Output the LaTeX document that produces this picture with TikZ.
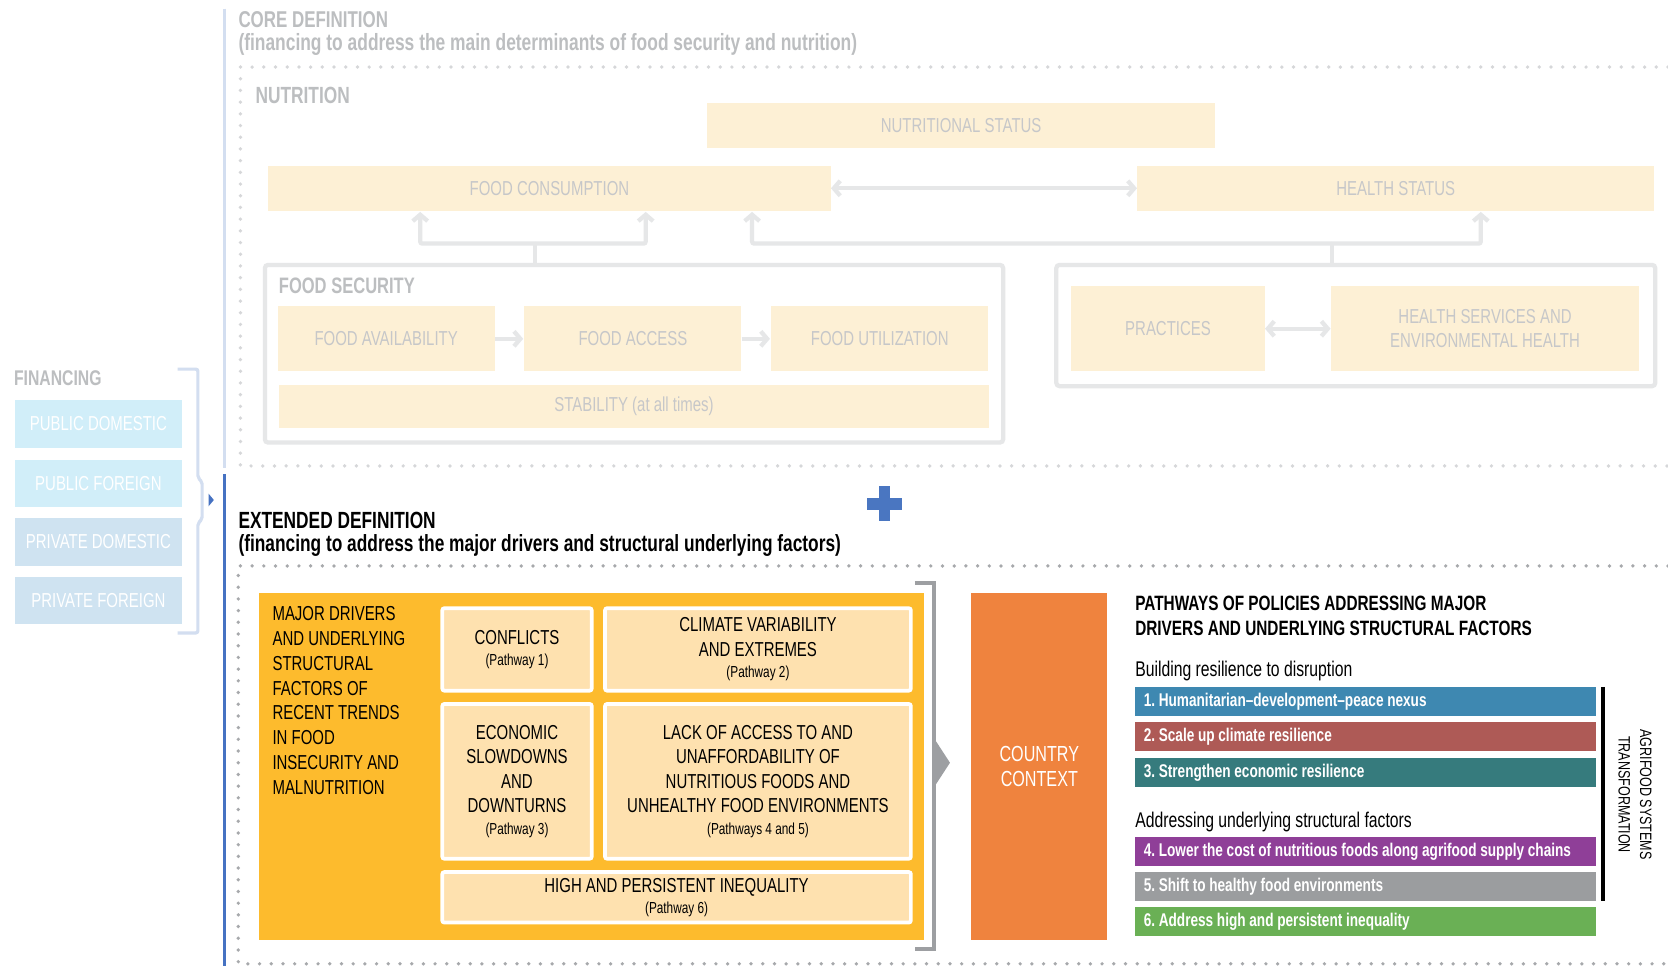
\documentclass[tikz,border=0pt]{standalone}
\usepackage{fontspec}
\setmainfont{Liberation Sans}[FakeStretch=0.74]
\newfontfamily\agrifont{Liberation Sans}[FakeStretch=0.76]
\usetikzlibrary{arrows.meta}
\definecolor{cream}{HTML}{FDF0D5}
\definecolor{ctext}{HTML}{C6C7C9}
\definecolor{chead}{HTML}{BCBEC0}
\definecolor{cline}{HTML}{E6E7E8}
\definecolor{cdot}{HTML}{D6D7D9}
\definecolor{edot}{HTML}{A7A9AC}
\definecolor{lblue}{HTML}{D3DEF0}
\definecolor{dblue}{HTML}{4672C2}
\definecolor{fin1}{HTML}{D1EEF9}
\definecolor{fin2}{HTML}{CFE3F1}
\definecolor{plusc}{HTML}{4A76C1}
\definecolor{yel}{HTML}{FDBB2D}
\definecolor{peach}{HTML}{FEE1AF}
\definecolor{gbr}{HTML}{9D9FA2}
\definecolor{orng}{HTML}{EF833E}
\definecolor{pa}{HTML}{3E88B1}
\definecolor{pb}{HTML}{AE5A56}
\definecolor{pc}{HTML}{367B7D}
\definecolor{pd}{HTML}{8F3F98}
\definecolor{pe}{HTML}{9B9D9F}
\definecolor{pf}{HTML}{6AB055}
\newcommand\pwy[1]{{\fontsize{15}{17}\selectfont #1}}
\newcommand\pwfont{\bfseries\frenchspacing\fontsize{17.3}{19}\selectfont}
\newcommand\pwtext[1]{\setlength{\spaceskip}{0.2em}#1}
\tikzset{
  cbox/.style={fill=cream, text=ctext, inner sep=0pt, align=center, font=\fontsize{19}{23}\selectfont},
  cframe/.style={draw=cline, line width=4pt, rounded corners=3pt, inner sep=0pt},
  conn/.style={draw=cline, line width=4pt, rounded corners=2pt},
  arr/.style={conn, -{Straight Barb[length=6pt,width=14pt]}, shorten >=1pt},
  darr/.style={conn, {Straight Barb[length=6pt,width=14pt]}-{Straight Barb[length=6pt,width=14pt]}},
  chd/.style={anchor=base west, inner sep=0pt, text=chead, font=\bfseries\fontsize{21.5}{25}\selectfont},
  ehd/.style={anchor=base west, inner sep=0pt, text=black, font=\bfseries\fontsize{22}{25}\selectfont},
  finbox/.style={text=white, inner sep=0pt, minimum width=157pt, minimum height=45pt, font=\fontsize{19}{23}\selectfont},
  dotline/.style={draw=#1, line width=3.5pt, line cap=round, dash pattern=on 0pt off 11pt},
  ibox/.style={fill=peach, draw=white, line width=3.5pt, rounded corners=2pt, inner sep=0pt, align=center, font=\fontsize{19}{23}\selectfont},
  pbox/.style={text=white, anchor=west, inner xsep=8pt, inner ysep=0pt, minimum height=27pt, text width=417pt, align=left, font=\pwfont},
  plain/.style={anchor=base west, inner sep=0pt, font=\fontsize{20}{24}\selectfont},
}
\begin{document}
\begin{tikzpicture}[x=1pt,y=-1pt]
\useasboundingbox[fill=white] (0,0) rectangle (1568,908);

% left vertical line
\draw[draw=lblue, line width=3pt] (211,8) -- (211,440);
\draw[draw=dblue, line width=3pt] (211,446) -- (211,908);

% ---------- CORE DEFINITION ----------
\node[chd] (coreT) at (224,26) {CORE DEFINITION};
\node[chd, font=\bfseries\fontsize{22.1}{25}\selectfont] (coreS) at (224,47) {(financing to address the main determinants of food security and nutrition)};
\draw[dotline=cdot] (1568,63) -- (226,63) -- (226,438) -- (1568,438);
\node[chd, font=\bfseries\fontsize{22}{24}\selectfont] (nutT) at (240,97) {NUTRITION};

\node[cbox, minimum width=477pt, minimum height=42pt] (nstat) at (903.5,118) {NUTRITIONAL STATUS};
\node[cbox, minimum width=529pt, minimum height=42pt] (fcons) at (516.5,177) {FOOD CONSUMPTION};
\node[cbox, minimum width=486pt, minimum height=42pt] (hstat) at (1312,177) {HEALTH STATUS};
\draw[darr] (fcons.east) -- (hstat.west);

\node[cframe, minimum width=694pt, minimum height=167pt] (fsec) at (596,332.5) {};
\node[chd, font=\bfseries\fontsize{21}{24}\selectfont] (fsecT) at (262,276) {FOOD SECURITY};
\node[cbox, minimum width=204pt, minimum height=61pt] (favail) at (363,318.5) {FOOD AVAILABILITY};
\node[cbox, minimum width=204pt, minimum height=61pt] (facc) at (595,318.5) {FOOD ACCESS};
\node[cbox, minimum width=204pt, minimum height=61pt] (futil) at (827,318.5) {FOOD UTILIZATION};
\node[cbox, minimum width=668pt, minimum height=40pt] (stab) at (596,382) {STABILITY (at all times)};
\draw[arr] (favail) -- (facc);
\draw[arr] (facc) -- (futil);

\node[cframe, minimum width=563pt, minimum height=114pt] (hframe) at (1274.5,306) {};
\node[cbox, minimum width=182pt, minimum height=80pt] (pract) at (1098,309) {PRACTICES};
\node[cbox, minimum width=290pt, minimum height=80pt] (hserv) at (1396,309) {HEALTH SERVICES AND\\ENVIRONMENTAL HEALTH};
\draw[darr] (pract) -- (hserv);

\coordinate (j1) at (503,229);
\coordinate (t1) at (395,229);
\coordinate (t2) at (607,229);
\draw[conn] (j1 |- fsec.north) -- (j1);
\draw[arr] (j1) -- (t1) -- (t1 |- fcons.south);
\draw[arr] (j1) -- (t2) -- (t2 |- fcons.south);
\coordinate (j2) at (1252,229);
\coordinate (t3) at (707,229);
\coordinate (t4) at (1392,229);
\draw[conn] (j2 |- hframe.north) -- (j2);
\draw[arr] (j2) -- (t3) -- (t3 |- fcons.south);
\draw[arr] (j2) -- (t4) -- (t4 |- hstat.south);

% ---------- FINANCING ----------
\node[chd, font=\bfseries\fontsize{20}{22}\selectfont] (finT) at (13,362) {FINANCING};
\node[finbox, fill=fin1] (fb1) at (92.5,398.5) {PUBLIC DOMESTIC};
\node[finbox, fill=fin1] (fb2) at (92.5,454.5) {PUBLIC FOREIGN};
\node[finbox, fill=fin2] (fb3) at (92.5,509.5) {PRIVATE DOMESTIC};
\node[finbox, fill=fin2] (fb4) at (92.5,564.5) {PRIVATE FOREIGN};
\draw[draw=lblue, line width=3pt, rounded corners=2pt] (167,347) -- (186,347) -- (186,449) -- (190,453) -- (190,488) -- (186,492) -- (186,595) -- (167,595);
\fill[dblue] (196,464) -- (201,470) -- (196,476) -- cycle;

% ---------- EXTENDED DEFINITION ----------
\fill[plusc] (815,468) rectangle (848,479);
\fill[plusc] (826,457) rectangle (837,490);
\node[ehd] (extT) at (224,497) {EXTENDED DEFINITION};
\node[ehd] (extS) at (224,518) {(financing to address the major drivers and structural underlying factors)};
\draw[dotline=edot] (1568,532) -- (224,532) -- (224,906) -- (1568,906);

\node[fill=yel, minimum width=626pt, minimum height=327pt, inner sep=0pt] (drv) at (556,720.5) {};
\node[anchor=north west, inner sep=0pt, align=left, font=\fontsize{19}{23.3}\selectfont] (drvT) at (256,570) {MAJOR DRIVERS\\AND UNDERLYING\\STRUCTURAL\\FACTORS OF\\RECENT TRENDS\\IN FOOD\\INSECURITY AND\\MALNUTRITION};

\node[ibox, minimum width=140.5pt, minimum height=77.5pt] (confl) at (486,610.5) {CONFLICTS\\[-3pt]\pwy{(Pathway 1)}};
\node[ibox, minimum width=287.5pt, minimum height=77.5pt] (clim) at (712.5,610.5) {CLIMATE VARIABILITY\\AND EXTREMES\\[-3pt]\pwy{(Pathway 2)}};
\node[ibox, minimum width=140.5pt, minimum height=145.5pt] (econ) at (486,734.5) {ECONOMIC\\SLOWDOWNS\\AND\\DOWNTURNS\\[-3pt]\pwy{(Pathway 3)}};
\node[ibox, minimum width=287.5pt, minimum height=145.5pt] (lack) at (712.5,734.5) {LACK OF ACCESS TO AND\\UNAFFORDABILITY OF\\NUTRITIOUS FOODS AND\\UNHEALTHY FOOD ENVIRONMENTS\\[-3pt]\pwy{(Pathways 4 and 5)}};
\node[ibox, minimum width=440.5pt, minimum height=47.5pt] (ineq) at (636,843.5) {HIGH AND PERSISTENT INEQUALITY\\[-3pt]\pwy{(Pathway 6)}};

\draw[draw=gbr, line width=4pt] (860,548) -- (878,548) -- (878,892) -- (860,892);
\fill[gbr] (880,697) -- (893,717) -- (880,737) -- cycle;

\node[fill=orng, text=white, minimum width=128pt, minimum height=327pt, inner sep=0pt, align=center, font=\fontsize{20.5}{24}\selectfont] (ctry) at (977,720.5) {COUNTRY\\CONTEXT};

\node[anchor=north west, inner sep=0pt, align=left, font=\bfseries\fontsize{19.5}{24}\selectfont] (pathT) at (1067,560) {PATHWAYS OF POLICIES ADDRESSING MAJOR\\DRIVERS AND UNDERLYING STRUCTURAL FACTORS};
\node[plain] (bres) at (1067,636) {Building resilience to disruption};
\node[pbox, fill=pa] (pw1) at (1067,659.5) {\pwtext{1. Humanitarian--development--peace nexus}};
\node[pbox, fill=pb] (pw2) at (1067,692.5) {\pwtext{2. Scale up climate resilience}};
\node[pbox, fill=pc] (pw3) at (1067,726) {\pwtext{3. Strengthen economic resilience}};
\node[plain] (addr) at (1067,778) {Addressing underlying structural factors};
\node[pbox, fill=pd] (pw4) at (1067,800.5) {\pwtext{4. Lower the cost of nutritious foods along agrifood supply chains}};
\node[pbox, fill=pe] (pw5) at (1067,833.5) {\pwtext{5. Shift to healthy food environments}};
\node[pbox, fill=pf] (pw6) at (1067,866.5) {\pwtext{6. Address high and persistent inequality}};
\draw[line width=4pt] (pw1.north east -| 1507,0) -- (pw5.south east -| 1507,0);
\node[rotate=-90, inner sep=0pt, align=center, font=\agrifont\fontsize{15.5}{20}\selectfont] (agri) at (1537,747) {AGRIFOOD SYSTEMS\\TRANSFORMATION};
\end{tikzpicture}
\end{document}
